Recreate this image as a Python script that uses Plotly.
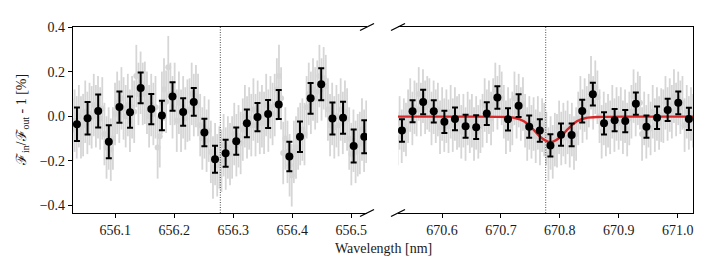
import numpy as np
import plotly.graph_objects as go

# ---------------- data ----------------
# binned points, H-alpha region (left panel)
left_wl = [656.035, 656.053, 656.071, 656.089, 656.107, 656.125, 656.143, 656.161,
           656.179, 656.197, 656.215, 656.233, 656.251, 656.269, 656.287, 656.305,
           656.323, 656.341, 656.359, 656.377, 656.395, 656.413, 656.431, 656.449,
           656.468, 656.486, 656.504, 656.522]
left_val = [-0.036, -0.009, 0.023, -0.114, 0.041, 0.018, 0.127, 0.032,
            0.003, 0.088, 0.019, 0.064, -0.073, -0.193, -0.166, -0.112,
            -0.032, -0.004, 0.010, 0.053, -0.181, -0.092, 0.080, 0.143,
            -0.010, -0.007, -0.134, -0.092]
left_err = [0.075, 0.073, 0.074, 0.074, 0.070, 0.070, 0.069, 0.068,
            0.066, 0.064, 0.062, 0.062, 0.062, 0.061, 0.061, 0.061,
            0.062, 0.063, 0.063, 0.065, 0.066, 0.068, 0.069, 0.072,
            0.072, 0.072, 0.074, 0.074]

# binned points, Li region (right panel)
right_wl = [670.532, 670.550, 670.568, 670.586, 670.604, 670.622, 670.640, 670.658,
            670.676, 670.694, 670.712, 670.730, 670.748, 670.766, 670.784, 670.802,
            670.820, 670.838, 670.856, 670.875, 670.893, 670.911, 670.929, 670.947,
            670.965, 670.983, 671.001, 671.019]
right_val = [-0.064, 0.022, 0.064, 0.022, -0.025, -0.012, -0.045, -0.049,
             0.012, 0.084, -0.014, 0.047, -0.047, -0.064, -0.131, -0.083,
             -0.084, 0.023, 0.099, -0.032, -0.018, -0.022, 0.056, -0.047,
             -0.007, 0.028, 0.060, -0.012]
right_err = [0.050, 0.049, 0.055, 0.050, 0.050, 0.051, 0.052, 0.053,
             0.051, 0.050, 0.050, 0.051, 0.050, 0.050, 0.050, 0.050,
             0.051, 0.051, 0.051, 0.050, 0.050, 0.050, 0.050, 0.050,
             0.050, 0.050, 0.051, 0.050]

# unbinned spectrum (light grey), 5 pixels per bin
left_raw = [
    -0.06, -0.02, -0.05, 0.00, -0.05,
    -0.04, 0.02, -0.03, 0.01, -0.005,
    0.05, 0.00, 0.04, -0.01, 0.035,
    -0.08, -0.14, -0.10, -0.15, -0.10,
    0.01, 0.06, 0.02, 0.08, 0.035,
    0.00, 0.05, -0.02, 0.04, 0.02,
    0.18, 0.10, 0.15, 0.10, 0.105,
    0.06, 0.00, 0.05, 0.01, 0.04,
    -0.14, -0.09, 0.06, 0.12, 0.065,
    0.22, 0.10, 0.04, 0.10, -0.02,
    0.06, -0.02, 0.04, -0.01, 0.025,
    0.03, 0.10, 0.05, 0.09, 0.05,
    -0.04, -0.10, -0.05, -0.11, -0.065,
    -0.16, -0.23, -0.17, -0.22, -0.185,
    -0.20, -0.13, -0.19, -0.14, -0.17,
    -0.14, -0.08, -0.13, -0.09, -0.12,
    -0.06, 0.00, -0.05, -0.01, -0.04,
    0.03, -0.04, 0.02, -0.03, 0.00,
    -0.03, 0.05, -0.02, 0.04, 0.01,
    0.05, 0.12, 0.18, 0.08, -0.165,
    -0.10, -0.16, -0.22, -0.265, -0.16,
    -0.14, -0.10, -0.08, -0.06, -0.08,
    0.04, 0.10, 0.06, 0.12, 0.08,
    0.11, 0.18, 0.12, 0.17, 0.135,
    0.03, -0.04, 0.01, -0.05, 0.00,
    -0.04, 0.03, -0.03, 0.02, -0.015,
    -0.10, -0.17, -0.11, -0.16, -0.13,
    -0.12, -0.06, -0.11, -0.07, -0.10,
]
right_raw = [
    -0.10, -0.03, -0.09, -0.04, -0.06,
    0.00, 0.05, -0.01, 0.04, 0.03,
    0.10, 0.03, 0.09, 0.04, 0.06,
    0.05, -0.01, 0.04, 0.00, 0.03,
    -0.05, 0.01, -0.04, 0.00, -0.045,
    0.02, -0.04, 0.01, -0.03, -0.02,
    -0.07, -0.02, -0.08, -0.01, -0.045,
    -0.02, -0.08, -0.03, -0.07, -0.045,
    -0.02, 0.05, 0.00, 0.04, -0.01,
    0.05, 0.12, 0.06, 0.11, 0.08,
    0.02, -0.05, 0.01, -0.04, -0.01,
    0.08, 0.02, 0.07, 0.01, 0.055,
    -0.02, -0.08, -0.03, -0.07, -0.035,
    -0.09, -0.03, -0.10, -0.04, -0.06,
    -0.10, -0.17, -0.12, -0.16, -0.105,
    -0.11, -0.05, -0.10, -0.06, -0.095,
    -0.05, -0.11, -0.06, -0.12, -0.08,
    -0.01, 0.06, 0.00, 0.05, 0.015,
    0.07, 0.15, 0.06, 0.13, 0.085,
    0.00, -0.07, -0.01, -0.06, -0.02,
    -0.05, 0.02, -0.04, 0.01, -0.03,
    0.01, -0.05, 0.00, -0.06, -0.01,
    0.02, 0.09, 0.03, 0.08, 0.06,
    -0.08, -0.01, -0.07, -0.02, -0.055,
    0.02, -0.04, 0.01, -0.03, 0.005,
    0.00, 0.06, 0.01, 0.05, 0.02,
    0.09, 0.03, 0.08, 0.04, 0.06,
    -0.04, 0.02, -0.03, 0.01, -0.02,
]
left_raw_start, left_raw_step = 656.0274, 0.003608
right_raw_start, right_raw_step = 670.5244, 0.00361
left_raw_err = 0.14
right_raw_err = 0.12

# Gaussian fit (red)
fit_wl = [670.5253, 670.62, 670.70, 670.724, 670.739, 670.754, 670.769, 670.784,
          670.799, 670.814, 670.829, 670.844, 670.87, 670.95, 671.026]
fit_val = [-0.002, -0.002, -0.003, -0.008, -0.023, -0.057, -0.098, -0.117,
           -0.098, -0.057, -0.023, -0.008, -0.003, -0.002, -0.002]

line_centers = [656.278, 670.776]
left_range = [656.0283, 656.5266]
right_range = [670.5253, 671.026]
y_range = [-0.434, 0.40]
left_ticks = [656.1, 656.2, 656.3, 656.4, 656.5]
right_ticks = [670.6, 670.7, 670.8, 670.9, 671.0]
y_ticks = [-0.4, -0.2, 0.0, 0.2, 0.4]

# ---------------- figure ----------------
FONT = "Liberation Serif"
GREY = "#d6d6d6"
TXT = "#1a1a1a"

left_raw_wl = left_raw_start + left_raw_step * np.arange(len(left_raw))
right_raw_wl = right_raw_start + right_raw_step * np.arange(len(right_raw))

fig = go.Figure()

for wl, val, err, xa, ya in [(left_raw_wl, left_raw, left_raw_err, "x", "y"),
                             (right_raw_wl, right_raw, right_raw_err, "x2", "y2")]:
    fig.add_trace(go.Scatter(
        x=wl, y=val, mode="markers", xaxis=xa, yaxis=ya,
        marker=dict(color=GREY, size=6),
        error_y=dict(type="constant", value=err, color=GREY, thickness=1.8, width=0),
        showlegend=False, hoverinfo="skip"))

# dotted line centers
for xc, xa, ya in [(line_centers[0], "x", "y"), (line_centers[1], "x2", "y2")]:
    fig.add_trace(go.Scatter(
        x=[xc, xc], y=y_range, mode="lines", xaxis=xa, yaxis=ya,
        line=dict(color="black", width=0.7, dash="1px,1.5px"),
        showlegend=False, hoverinfo="skip"))

fig.add_trace(go.Scatter(
    x=fit_wl, y=fit_val, mode="lines", xaxis="x2", yaxis="y2",
    line=dict(color="#d62728", width=2.4, shape="spline", smoothing=1.0),
    showlegend=False))

for wl, val, err, xa, ya in [(left_wl, left_val, left_err, "x", "y"),
                             (right_wl, right_val, right_err, "x2", "y2")]:
    fig.add_trace(go.Scatter(
        x=wl, y=val, mode="markers", xaxis=xa, yaxis=ya,
        marker=dict(color="black", size=8),
        error_y=dict(type="data", array=err, color="black", thickness=2, width=3),
        showlegend=False))

W, H = 704, 257
ml, mr, mt, mb = 65, 19, 15, 52
pw = W - ml - mr
d_left = [0, (359 - ml) / pw]
d_right = [(390 - ml) / pw, 1]

axis_common = dict(showline=True, linecolor="black", linewidth=1.2, showgrid=False,
                   zeroline=False, ticks="outside", ticklen=4, tickwidth=1,
                   tickcolor="black", tickfont=dict(family=FONT, size=14, color=TXT))

fig.update_layout(
    width=W, height=H,
    margin=dict(l=ml, r=mr, t=mt, b=mb),
    plot_bgcolor="white", paper_bgcolor="white",
    font=dict(family=FONT, size=14, color=TXT),
    xaxis=dict(domain=d_left, range=left_range, tickvals=left_ticks,
               ticktext=[f"{t:.1f}" for t in left_ticks], mirror=True, anchor="y",
               **axis_common),
    xaxis2=dict(domain=d_right, range=right_range, tickvals=right_ticks,
                ticktext=[f"{t:.1f}" for t in right_ticks], mirror=True, anchor="y2",
                **axis_common),
    yaxis=dict(domain=[0, 1], range=y_range, tickvals=y_ticks,
               ticktext=["\u22120.4", "\u22120.2", "0.0", "0.2", "0.4"],
               anchor="x", **axis_common),
    yaxis2=dict(domain=[0, 1], range=y_range, anchor="x2", side="right",
                showline=True, linecolor="black", linewidth=1.2, showgrid=False,
                zeroline=False, ticks="", showticklabels=False),
)

# broken-axis diagonal marks
for xa in [d_left[1], d_right[0]]:
    for ya in [0, 1]:
        fig.add_shape(type="line", xref="paper", yref="paper",
                      xsizemode="pixel", ysizemode="pixel",
                      xanchor=xa, yanchor=ya, x0=-7, x1=7, y0=-3.5, y1=3.5,
                      line=dict(color="black", width=1.3))

fig.add_annotation(text="Wavelength [nm]", xref="paper", yref="paper",
                   x=0.5, y=(205 - 241) / 190, xanchor="center", yanchor="middle",
                   showarrow=False, font=dict(family=FONT, size=14, color=TXT))
fig.add_annotation(text="\u2131<sub>in</sub>/\u2131<sub>out</sub> - 1 [%]",
                   xref="paper", yref="paper", x=(14 - ml) / pw, y=(205 - 110) / 190,
                   xanchor="center", yanchor="middle", textangle=-90, showarrow=False,
                   font=dict(family=FONT, size=14, color=TXT))

fig.write_html("out.html")
